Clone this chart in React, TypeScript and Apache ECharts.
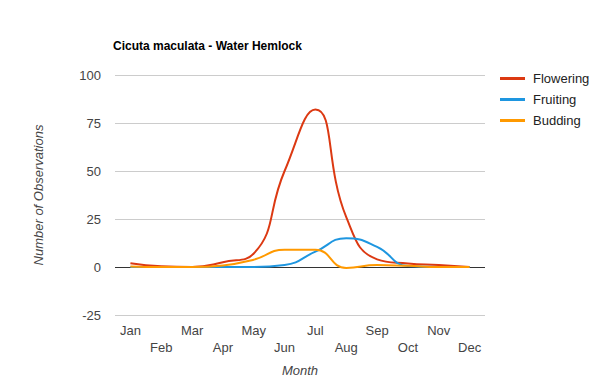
import React, { useEffect, useRef } from "react";
import * as echarts from "echarts";

const months = ["Jan", "Feb", "Mar", "Apr", "May", "Jun", "Jul", "Aug", "Sep", "Oct", "Nov", "Dec"];
const flowering = [2, 0.4, 0, 2.5, 7, 50, 82, 26, 4, 1.8, 1, 0];
const fruiting = [0, 0, 0, 0, 0, 1, 8, 15, 10.5, 0.5, 0, 0];
const budding = [0.3, 0, 0, 0.8, 3.8, 9, 9, -0.5, 1, 0.6, 0, 0];
const yTicks = { min: -25, max: 100, interval: 25 };

const FONT = "Arial, 'Liberation Sans', sans-serif";

export default function App() {
  const ref = useRef<HTMLDivElement>(null);
  useEffect(() => {
    const chart = echarts.init(ref.current!, null, { renderer: "svg" });
    const mk = (name: string, data: number[], color: string) => ({
      name,
      type: "line",
      data,
      smooth: 0.5,
      symbol: "none",
      lineStyle: { color, width: 2 },
      itemStyle: { color },
    });
    chart.setOption({
      animation: false,
      textStyle: { fontFamily: FONT },
      title: {
        text: "Cicuta maculata - Water Hemlock",
        left: 108,
        top: 35,
        textStyle: { fontSize: 12, fontWeight: "bold", color: "#000", fontFamily: FONT },
      },
      legend: {
        orient: "vertical",
        left: 495,
        top: 67,
        itemWidth: 25,
        itemHeight: 3,
        itemGap: 8,
        icon: "rect",
        textStyle: { fontSize: 13, color: "#222", fontFamily: FONT, padding: [0, 0, 0, 3] },
        data: ["Flowering", "Fruiting", "Budding"],
      },
      grid: { left: 115, right: 115, top: 75, bottom: 75, containLabel: false },
      xAxis: {
        type: "category",
        data: months,
        boundaryGap: true,
        axisLine: { show: false },
        axisTick: { show: false },
        axisLabel: {
          interval: 0,
          color: "#444",
          fontSize: 13,
          fontFamily: FONT,
          lineHeight: 17,
          margin: 7,
          formatter: (v: string, i: number) => (i % 2 === 1 ? "\n" + v : v),
        },
        name: "Month",
        nameLocation: "middle",
        nameGap: 49,
        nameTextStyle: { fontStyle: "italic", color: "#444", fontSize: 13, fontFamily: FONT },
      },
      yAxis: {
        type: "value",
        min: yTicks.min,
        max: yTicks.max,
        interval: yTicks.interval,
        axisLine: { show: false },
        axisTick: { show: false },
        axisLabel: { color: "#444", fontSize: 13, fontFamily: FONT, margin: 14 },
        splitLine: {
          lineStyle: { color: ["#ccc", "#333", "#ccc", "#ccc", "#ccc", "#ccc"], width: 1 },
        },
        name: "Number of Observations",
        nameLocation: "middle",
        nameGap: 70,
        nameTextStyle: { fontStyle: "italic", color: "#444", fontSize: 13, fontFamily: FONT },
      },
      series: [
        mk("Flowering", flowering, "#dc3912"),
        mk("Fruiting", fruiting, "#1e96e0"),
        mk("Budding", budding, "#ff9900"),
      ],
    });
    return () => chart.dispose();
  }, []);
  return <div ref={ref} style={{ width: 600, height: 390, position: "absolute", left: 0, top: 0 }} />;
}
